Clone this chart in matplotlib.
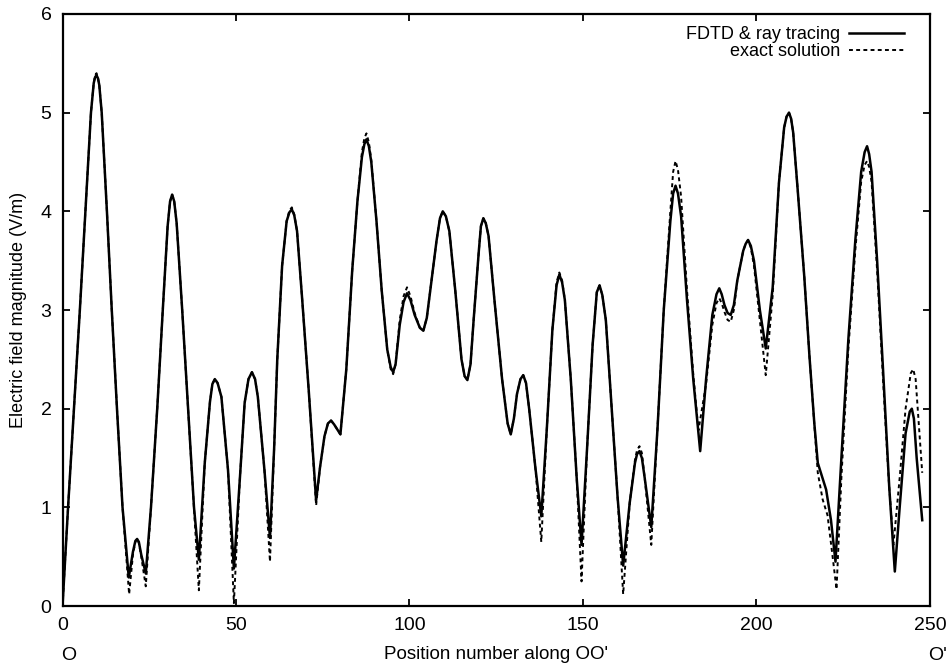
import matplotlib
matplotlib.use("Agg")
import matplotlib.pyplot as plt

plt.rcParams['font.family'] = ['Liberation Sans', 'DejaVu Sans']

# FDTD & ray tracing (solid)
fdtd_x = [0, 1.6, 3.3, 5.0, 6.6, 8.2, 9.0, 9.4, 9.8, 10.2, 10.6, 11.3, 12.8, 14.2, 15.7, 17.3, 19.1,
          20.3, 21.0, 21.5, 22.0, 22.7, 24.0,
          25.5, 27.3, 28.9, 30.3, 31.0, 31.6, 32.2, 32.9, 34.5, 36.2, 37.9, 39.3,
          41.0, 42.5, 43.2, 43.9, 44.7, 45.8, 47.7, 49.4,
          51.1, 52.5, 53.6, 54.6, 55.5, 56.3, 58.2, 59.8,
          61.0, 61.9, 63.3, 64.6, 65.4, 66.1, 66.8, 67.6, 69.1, 71.0, 73.1,
          74.2, 75.5, 76.5, 77.4, 78.3, 80.1,
          81.8, 83.5, 85.0, 86.3, 87.0, 87.6, 88.3, 89.0, 90.5, 92.0,
          93.6, 94.6, 95.3, 96.0, 97.2, 98.3, 99.3, 100.3, 101.5, 103.0,
          104.0, 105.0, 106.0, 107.8, 108.8, 109.6, 110.5, 111.5, 113.2, 115.0,
          115.9, 116.7, 117.6, 118.5, 120.0, 120.6, 121.3, 122.0, 122.8, 124.5,
          126.7, 128.3, 129.2, 130.1, 131.0, 132.0, 132.8, 133.6, 134.5, 136.3, 138.0,
          139.6, 141.2, 142.4, 143.2, 144.0, 144.8, 146.5, 148.2, 149.6,
          151.2, 152.8, 154.0, 154.8, 155.6, 156.6, 158.3, 160.0, 161.6,
          163.5, 165.0, 165.6, 166.3, 167.0, 167.8, 169.7,
          171.5, 173.3, 175.2, 176.0, 176.7, 177.4, 178.3, 180.0, 181.8, 183.8,
          185.5, 187.3, 188.5, 189.3, 190.0, 190.8, 191.7, 192.6, 193.5, 194.5,
          196.2, 196.9, 197.6, 198.4, 199.3, 201.0, 202.7,
          204.7, 206.5, 208.0, 208.7, 209.4, 210.0, 210.6, 211.9, 213.8, 215.3,
          216.7, 217.7, 220.1, 221.5, 222.8,
          224.5, 226.5, 228.5, 230.2, 231.2, 231.9, 232.5, 233.2, 234.8, 236.5, 238.3, 239.9,
          241.3, 243.0, 244.2, 244.8, 245.4, 246.2, 247.8]
fdtd_y = [0.0, 1.0, 2.0, 3.0, 4.0, 5.0, 5.3, 5.36, 5.38, 5.35, 5.28, 5.0, 4.0, 3.0, 2.0, 1.0, 0.29,
          0.55, 0.66, 0.68, 0.65, 0.52, 0.33,
          1.0, 2.0, 3.0, 3.85, 4.1, 4.17, 4.1, 3.88, 3.0, 2.0, 1.0, 0.47,
          1.45, 2.07, 2.25, 2.3, 2.26, 2.12, 1.38, 0.38,
          1.28, 2.06, 2.3, 2.37, 2.3, 2.12, 1.38, 0.69,
          1.6, 2.5, 3.45, 3.9, 3.99, 4.02, 3.96, 3.8, 3.1, 2.17, 1.07,
          1.4, 1.72, 1.85, 1.88, 1.84, 1.74,
          2.4, 3.4, 4.1, 4.55, 4.68, 4.73, 4.66, 4.5, 3.9, 3.2,
          2.6, 2.42, 2.37, 2.45, 2.85, 3.08, 3.17, 3.1, 2.95, 2.82,
          2.79, 2.92, 3.2, 3.7, 3.93, 4.0, 3.95, 3.8, 3.2, 2.5,
          2.33, 2.29, 2.45, 2.9, 3.6, 3.85, 3.93, 3.88, 3.75, 3.1,
          2.3, 1.85, 1.74, 1.9, 2.15, 2.3, 2.34, 2.26, 2.0, 1.4, 0.91,
          1.8, 2.8, 3.25, 3.36, 3.28, 3.1, 2.3, 1.3, 0.62,
          1.6, 2.65, 3.18, 3.25, 3.15, 2.9, 2.0, 1.1, 0.41,
          1.05, 1.45, 1.54, 1.57, 1.5, 1.3, 0.8,
          1.8, 3.0, 3.9, 4.18, 4.26, 4.18, 3.95, 3.1, 2.3, 1.57,
          2.3, 2.95, 3.16, 3.22, 3.16, 3.05, 2.97, 2.95, 3.05, 3.3,
          3.6, 3.67, 3.71, 3.65, 3.5, 3.0, 2.61,
          3.23, 4.29, 4.85, 4.96, 5.0, 4.94, 4.8, 4.22, 3.34, 2.53,
          1.85, 1.45, 1.18, 0.87, 0.45,
          1.5, 2.7, 3.7, 4.4, 4.6, 4.66, 4.58, 4.4, 3.5, 2.4, 1.2, 0.35,
          1.0, 1.75, 1.97, 2.0, 1.9, 1.5, 0.87]

# exact solution (dashed)
exact_x = [0, 1.6, 3.3, 5.0, 6.6, 8.2, 9.0, 9.4, 9.8, 10.2, 10.6, 11.3, 12.8, 14.2, 15.7, 17.3, 19.2,
           20.3, 21.0, 21.5, 22.0, 22.7, 24.0,
           25.5, 27.3, 28.9, 30.3, 31.0, 31.6, 32.2, 32.9, 34.5, 36.2, 37.9, 39.3,
           41.0, 42.5, 43.2, 43.9, 44.7, 45.8, 47.7, 49.4,
           51.1, 52.5, 53.6, 54.6, 55.5, 56.3, 58.2, 59.8,
           61.0, 61.9, 63.3, 64.6, 65.4, 66.1, 66.8, 67.6, 69.1, 71.0, 73.1,
           74.2, 75.5, 76.5, 77.4, 78.3, 80.1,
           81.8, 83.5, 85.0, 86.3, 87.0, 87.6, 88.3, 89.0, 90.5, 92.0,
           93.6, 94.6, 95.3, 96.0, 97.2, 98.3, 99.3, 100.3, 101.5, 103.0,
           104.0, 105.0, 106.0, 107.8, 108.8, 109.6, 110.5, 111.5, 113.2, 115.0,
           115.9, 116.7, 117.6, 118.5, 120.0, 120.6, 121.3, 122.0, 122.8, 124.5,
           126.7, 128.3, 129.2, 130.1, 131.0, 132.0, 132.8, 133.6, 134.5, 136.3, 138.0,
           139.6, 141.2, 142.4, 143.2, 144.0, 144.8, 146.5, 148.2, 149.6,
           151.2, 152.8, 154.0, 154.8, 155.6, 156.6, 158.3, 160.0, 161.6,
           163.5, 165.0, 165.6, 166.3, 167.0, 167.8, 169.7,
           171.5, 173.3, 175.2, 176.0, 176.7, 177.4, 178.3, 180.0, 181.8, 183.3,
           185.5, 187.3, 188.5, 189.3, 190.0, 190.8, 191.7, 192.6, 193.5, 194.5,
           196.2, 196.9, 197.6, 198.4, 199.3, 201.0, 202.7,
           204.7, 206.5, 208.0, 208.7, 209.4, 210.0, 210.6, 211.9, 213.8, 215.3,
           216.7, 217.7, 219.1, 220.5, 221.8, 223.1,
           224.5, 226.5, 228.5, 230.2, 231.2, 231.9, 232.5, 233.2, 234.8, 236.5, 238.1, 239.5,
           241.3, 243.0, 244.5, 245.2, 245.9, 246.5, 247.8]
exact_y = [0.0, 1.0, 2.0, 3.0, 4.0, 5.0, 5.3, 5.38, 5.40, 5.36, 5.28, 5.0, 4.0, 3.0, 2.0, 1.0, 0.12,
           0.52, 0.65, 0.68, 0.64, 0.5, 0.2,
           1.0, 2.0, 3.0, 3.85, 4.1, 4.17, 4.1, 3.88, 3.0, 2.0, 1.0, 0.16,
           1.45, 2.07, 2.25, 2.3, 2.26, 2.12, 1.38, 0.03,
           1.28, 2.06, 2.3, 2.37, 2.3, 2.12, 1.38, 0.45,
           1.6, 2.5, 3.45, 3.9, 4.01, 4.04, 3.97, 3.8, 3.1, 2.17, 1.02,
           1.4, 1.72, 1.85, 1.88, 1.84, 1.74,
           2.4, 3.4, 4.1, 4.6, 4.74, 4.79, 4.7, 4.52, 3.9, 3.2,
           2.6, 2.4, 2.35, 2.45, 2.9, 3.14, 3.23, 3.14, 2.97, 2.82,
           2.79, 2.92, 3.2, 3.7, 3.93, 4.0, 3.95, 3.8, 3.2, 2.5,
           2.33, 2.29, 2.45, 2.9, 3.6, 3.85, 3.93, 3.88, 3.75, 3.1,
           2.3, 1.85, 1.74, 1.9, 2.15, 2.3, 2.34, 2.26, 2.0, 1.4, 0.65,
           1.8, 2.8, 3.28, 3.38, 3.3, 3.1, 2.3, 1.3, 0.25,
           1.6, 2.65, 3.18, 3.25, 3.15, 2.9, 2.0, 1.1, 0.12,
           1.05, 1.48, 1.58, 1.62, 1.55, 1.3, 0.62,
           1.8, 3.0, 4.0, 4.4, 4.51, 4.42, 4.15, 3.2, 2.35, 1.78,
           2.25, 2.85, 3.07, 3.12, 3.07, 2.98, 2.9, 2.88, 3.0, 3.3,
           3.6, 3.67, 3.71, 3.63, 3.45, 2.9, 2.34,
           3.15, 4.29, 4.85, 4.96, 5.0, 4.94, 4.8, 4.22, 3.34, 2.53,
           1.85, 1.35, 1.08, 0.92, 0.55, 0.17,
           1.3, 2.6, 3.6, 4.3, 4.47, 4.51, 4.45, 4.3, 3.4, 2.3, 1.3, 0.62,
           1.3, 2.0, 2.36, 2.40, 2.3, 2.0, 1.35]

x_ticks = [0, 50, 100, 150, 200, 250]
y_ticks = [0, 1, 2, 3, 4, 5, 6]

fig = plt.figure(figsize=(9.5, 6.66), dpi=100)
ax = fig.add_axes([0.0658, 0.090, 0.913, 0.889])

l2, = ax.plot(exact_x, exact_y, color='black', lw=1.4, linestyle=(0, (2.0, 1.7)),
              label='exact solution')
l1, = ax.plot(fdtd_x, fdtd_y, color='black', lw=1.8, label='FDTD & ray tracing')

ax.set_xlim(0, 250)
ax.set_ylim(0, 6)
ax.set_xticks(x_ticks)
ax.set_yticks(y_ticks)
ax.tick_params(direction='in', length=5, width=1.3, top=True, right=True,
               labelsize=14, pad=8)
for s in ax.spines.values():
    s.set_linewidth(1.6)

ax.set_xlabel("Position number along OO'", fontsize=13.5)
ax.set_ylabel("Electric field magnitude (V/m)", fontsize=13)
ax.xaxis.set_label_coords(0.5, -0.068)
ax.yaxis.set_label_coords(-0.041, 0.5)

fig.text(69 / 950, 1 - 655 / 666, "O", fontsize=14, ha='center', va='center')
fig.text(938 / 950, 1 - 655 / 666, "O'", fontsize=14, ha='center', va='center')

leg = ax.legend(handles=[l1, l2], loc='upper right', bbox_to_anchor=(0.978, 0.992),
                borderaxespad=0, markerfirst=False, frameon=False,
                fontsize=13, handlelength=3.0, handletextpad=0.5, labelspacing=0.0)

fig.savefig('out.png', dpi=100)
